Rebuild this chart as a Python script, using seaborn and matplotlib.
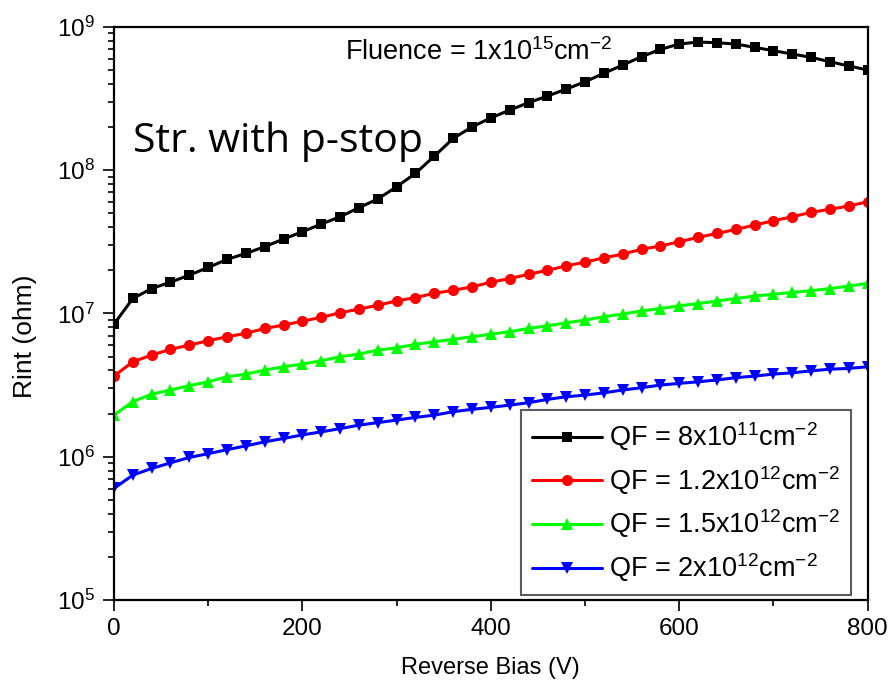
import math

import matplotlib
matplotlib.use("Agg")
import matplotlib.pyplot as plt
import pandas as pd
import seaborn as sns
from matplotlib.ticker import FixedLocator, FuncFormatter, MultipleLocator, NullFormatter

# Reverse bias sweep (V)
bias_v = list(range(0, 801, 20))

# Interstrip resistance (ohm) for each oxide charge density
rint_qf_8e11 = [
    8.41e6, 1.27e7, 1.49e7, 1.65e7, 1.85e7, 2.09e7, 2.38e7, 2.62e7, 2.92e7, 3.30e7,
    3.71e7, 4.20e7, 4.72e7, 5.46e7, 6.28e7, 7.64e7, 9.48e7, 1.25e8, 1.66e8, 2.00e8,
    2.31e8, 2.62e8, 2.95e8, 3.28e8, 3.67e8, 4.13e8, 4.73e8, 5.40e8, 6.18e8, 6.95e8,
    7.57e8, 7.82e8, 7.73e8, 7.57e8, 7.18e8, 6.80e8, 6.45e8, 6.11e8, 5.70e8, 5.32e8,
    4.99e8,
]
rint_qf_1p2e12 = [
    3.65e6, 4.59e6, 5.12e6, 5.61e6, 6.01e6, 6.44e6, 6.87e6, 7.25e6, 7.85e6, 8.28e6,
    8.83e6, 9.37e6, 1.01e7, 1.07e7, 1.14e7, 1.22e7, 1.29e7, 1.38e7, 1.45e7, 1.53e7,
    1.65e7, 1.75e7, 1.87e7, 2.00e7, 2.14e7, 2.28e7, 2.44e7, 2.59e7, 2.80e7, 2.95e7,
    3.16e7, 3.39e7, 3.61e7, 3.85e7, 4.13e7, 4.43e7, 4.72e7, 5.07e7, 5.32e7, 5.61e7,
    6.01e7,
]
rint_qf_1p5e12 = [
    1.95e6, 2.42e6, 2.73e6, 2.92e6, 3.13e6, 3.33e6, 3.61e6, 3.77e6, 4.02e6, 4.24e6,
    4.43e6, 4.67e6, 4.98e6, 5.20e6, 5.54e6, 5.75e6, 6.08e6, 6.34e6, 6.59e6, 6.87e6,
    7.15e6, 7.45e6, 7.85e6, 8.19e6, 8.59e6, 8.98e6, 9.47e6, 9.89e6, 1.04e7, 1.08e7,
    1.13e7, 1.17e7, 1.22e7, 1.27e7, 1.32e7, 1.36e7, 1.40e7, 1.44e7, 1.49e7, 1.55e7,
    1.62e7,
]
rint_qf_2e12 = [
    6.01e5, 7.44e5, 8.28e5, 9.06e5, 9.88e5, 1.05e6, 1.12e6, 1.19e6, 1.27e6, 1.34e6,
    1.42e6, 1.49e6, 1.57e6, 1.66e6, 1.73e6, 1.80e6, 1.88e6, 1.95e6, 2.06e6, 2.14e6,
    2.21e6, 2.29e6, 2.38e6, 2.51e6, 2.62e6, 2.69e6, 2.79e6, 2.92e6, 3.03e6, 3.16e6,
    3.25e6, 3.33e6, 3.43e6, 3.56e6, 3.65e6, 3.77e6, 3.85e6, 3.97e6, 4.08e6, 4.13e6,
    4.24e6,
]

series_labels = [
    r"QF = 8x10$^{11}$cm$^{-2}$",
    r"QF = 1.2x10$^{12}$cm$^{-2}$",
    r"QF = 1.5x10$^{12}$cm$^{-2}$",
    r"QF = 2x10$^{12}$cm$^{-2}$",
]
series_values = [rint_qf_8e11, rint_qf_1p2e12, rint_qf_1p5e12, rint_qf_2e12]
series_colors = ["#000000", "#ff0000", "#00ff00", "#0000ff"]
series_markers = ["s", "o", "^", "v"]
series_msize = [7.2, 8.0, 8.6, 8.6]

y_decades = [5, 6, 7, 8, 9]
x_major = [0, 200, 400, 600, 800]

sns.set_style("ticks")
plt.rcParams["font.family"] = ["Liberation Sans", "DejaVu Sans"]
plt.rcParams["mathtext.fontset"] = "custom"
plt.rcParams["mathtext.rm"] = "Liberation Sans"
plt.rcParams["mathtext.default"] = "regular"
plt.rcParams["text.color"] = "black"
plt.rcParams["axes.labelcolor"] = "black"
plt.rcParams["legend.labelcolor"] = "black"

fig = plt.figure(figsize=(8.89, 6.92), dpi=100)
ax = fig.add_axes([0.1282, 0.1329, 0.8478, 0.8285])

for label, vals, color, marker, ms in zip(series_labels, series_values,
                                          series_colors, series_markers, series_msize):
    df = pd.DataFrame({"bias": bias_v, "rint": vals})
    sns.lineplot(data=df, x="bias", y="rint", ax=ax, color=color, marker=marker,
                 markersize=ms, markeredgewidth=0, linewidth=2.2, label=label,
                 estimator=None)

ax.set_yscale("log")
ax.set_xlim(0, 800)
ax.set_ylim(10.0 ** y_decades[0], 10.0 ** y_decades[-1])

ax.xaxis.set_major_locator(FixedLocator(x_major))
ax.xaxis.set_minor_locator(MultipleLocator(100))
ax.yaxis.set_major_locator(FixedLocator([10.0 ** d for d in y_decades]))
minor_y = [m * 10.0 ** d for d in y_decades[:-1] for m in range(2, 10)]
ax.yaxis.set_minor_locator(FixedLocator(minor_y))
ax.yaxis.set_minor_formatter(NullFormatter())
ax.yaxis.set_major_formatter(FuncFormatter(
    lambda v, _: r"$10^{%d}$" % round(math.log10(v))))

ax.tick_params(axis="both", which="major", direction="out", length=8, width=1.2,
               labelsize=17.5, colors="black", pad=5, top=False, right=False)
ax.tick_params(axis="both", which="minor", direction="out", length=4, width=1.2,
               colors="black", top=False, right=False)
ax.tick_params(axis="y", which="major", pad=6)

for side in ["left", "right", "top", "bottom"]:
    ax.spines[side].set_visible(True)
    ax.spines[side].set_color("black")
    ax.spines[side].set_linewidth(1.6)

ax.set_xlabel("Reverse Bias (V)", fontsize=17, labelpad=12, color="black")
ax.set_ylabel("Rint (ohm)", fontsize=19, color="black")
ax.yaxis.set_label_coords(-0.102, 0.46)

ax.text(0.3065, 0.956, r"Fluence = 1x10$^{15}$cm$^{-2}$", transform=ax.transAxes,
        fontsize=19.5, va="center", ha="left", color="black")
ax.text(0.025, 0.782, "Str. with p-stop", transform=ax.transAxes,
        fontsize=29.5, va="baseline", ha="left", color="black",
        family=["Open Sans", "DejaVu Sans"])

leg = ax.legend(loc="lower right", bbox_to_anchor=(0.978, 0.009), borderaxespad=0,
                fontsize=19.5, frameon=True, fancybox=False, handlelength=2.6,
                handletextpad=0.25, labelspacing=0.4, borderpad=0.4)
leg.get_frame().set_edgecolor("#333333")
leg.get_frame().set_linewidth(1.5)
for txt in leg.get_texts():
    txt.set_color("black")

fig.savefig("out.png", dpi=100)
